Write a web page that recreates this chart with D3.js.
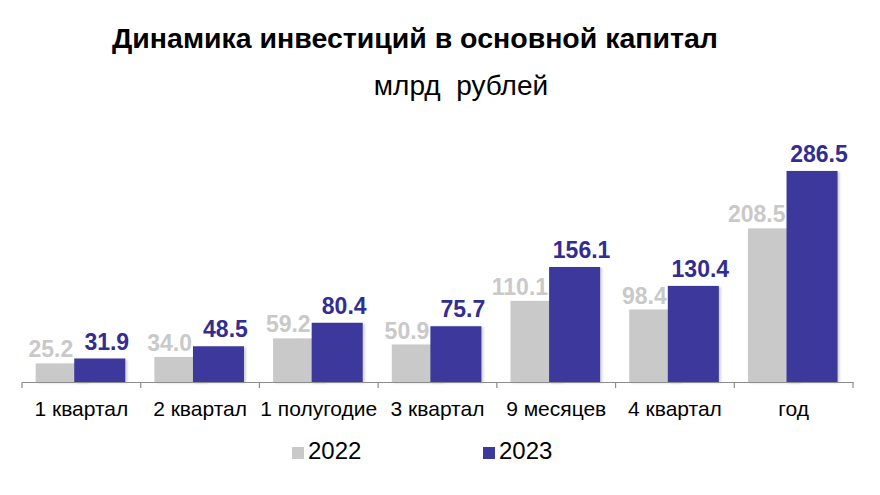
<!DOCTYPE html>
<html>
<head>
<meta charset="utf-8">
<script src="https://cdn.jsdelivr.net/npm/d3@7"></script>
<style>
  body { margin: 0; background: #fff; }
  svg { font-family: "Liberation Sans", Arial, sans-serif; }
</style>
</head>
<body>
<div id="chart"></div>
<script>
// chart data
const categories = ["1 квартал", "2 квартал", "1 полугодие", "3 квартал", "9 месяцев", "4 квартал", "год"];
const values2022 = [25.2, 34.0, 59.2, 50.9, 110.1, 98.4, 208.5];
const values2023 = [31.9, 48.5, 80.4, 75.7, 156.1, 130.4, 286.5];
const seriesNames = ["2022", "2023"];

const width = 880, height = 495;
const grayColor = "#c9c9c9";
const blueColor = "#3c389c";
const blueText = "#312d92";

const svg = d3.select("#chart").append("svg")
    .attr("width", width)
    .attr("height", height);

// soft shadow like the office chart
const defs = svg.append("defs");
const filter = defs.append("filter").attr("id", "shadow")
    .attr("x", "-10%").attr("y", "-10%").attr("width", "130%").attr("height", "130%");
filter.append("feDropShadow")
    .attr("dx", 2).attr("dy", 1).attr("stdDeviation", 1.2)
    .attr("flood-color", "#000").attr("flood-opacity", 0.18);

// titles
svg.append("text")
    .attr("x", 415).attr("y", 48)
    .attr("text-anchor", "middle")
    .style("font-size", "28.5px")
    .style("font-weight", "bold")
    .text("Динамика инвестиций в основной капитал");

svg.append("text")
    .attr("x", 461).attr("y", 95)
    .attr("text-anchor", "middle")
    .style("font-size", "28px")
    .style("white-space", "pre")
    .text("млрд  рублей");

const xScale = d3.scaleBand()
    .domain(categories)
    .range([22, 853])
    .padding(0);

const yScale = d3.scaleLinear()
    .domain([0, 300])
    .range([382, 161]);

const bw = xScale.bandwidth();
const barW = bw * 0.43;
const grayOff = bw * 0.115;
const blueOff = bw * 0.44;

const data = categories.map((c, i) => ({cat: c, v22: values2022[i], v23: values2023[i]}));

const bars = svg.append("g");

bars.selectAll(".bar22")
    .data(data)
    .join("rect")
    .attr("class", "bar22")
    .attr("x", d => xScale(d.cat) + grayOff)
    .attr("y", d => yScale(d.v22))
    .attr("width", barW)
    .attr("height", d => yScale(0) - yScale(d.v22))
    .attr("fill", grayColor)
    .attr("filter", "url(#shadow)");

bars.selectAll(".bar23")
    .data(data)
    .join("rect")
    .attr("class", "bar23")
    .attr("x", d => xScale(d.cat) + blueOff)
    .attr("y", d => yScale(d.v23))
    .attr("width", barW)
    .attr("height", d => yScale(0) - yScale(d.v23))
    .attr("fill", blueColor)
    .attr("filter", "url(#shadow)");

// value labels
svg.selectAll(".lab22")
    .data(data)
    .join("text")
    .attr("class", "lab22")
    .attr("x", d => xScale(d.cat) + blueOff - 1)
    .attr("y", d => yScale(d.v22) - 6)
    .attr("text-anchor", "end")
    .attr("fill", grayColor)
    .style("font-size", "23px")
    .style("font-weight", "bold")
    .text(d => d.v22.toFixed(1));

svg.selectAll(".lab23")
    .data(data)
    .join("text")
    .attr("class", "lab23")
    .attr("x", d => xScale(d.cat) + blueOff + barW / 2 + 7)
    .attr("y", d => yScale(d.v23) - 9)
    .attr("text-anchor", "middle")
    .attr("fill", blueText)
    .style("font-size", "23px")
    .style("font-weight", "bold")
    .text(d => d.v23.toFixed(1));

// x axis
const xAxis = d3.axisBottom(xScale).tickSize(0).tickPadding(19);
const axisG = svg.append("g")
    .attr("transform", `translate(0,${yScale(0)})`)
    .call(xAxis);
axisG.select(".domain").attr("stroke", "#8c8c8c").attr("stroke-width", 1.2);
axisG.selectAll(".tick text")
    .style("font-size", "21px")
    .style("font-family", "'Liberation Sans', Arial, sans-serif")
    .attr("fill", "#000");

// tick marks at band edges
const edges = categories.map(c => xScale(c)).concat([xScale.range()[1]]);
axisG.selectAll(".edge")
    .data(edges)
    .join("line")
    .attr("class", "edge")
    .attr("x1", d => d).attr("x2", d => d)
    .attr("y1", 0).attr("y2", 6)
    .attr("stroke", "#8c8c8c").attr("stroke-width", 1.2);

// legend
const legendX = [292, 483];
const legend = svg.append("g");
seriesNames.forEach((name, i) => {
    legend.append("rect")
        .attr("x", legendX[i]).attr("y", 447)
        .attr("width", 12).attr("height", 12)
        .attr("fill", i === 0 ? grayColor : blueColor);
    legend.append("text")
        .attr("x", legendX[i] + 16).attr("y", 459)
        .style("font-size", "24px")
        .text(name);
});
</script>
</body>
</html>
